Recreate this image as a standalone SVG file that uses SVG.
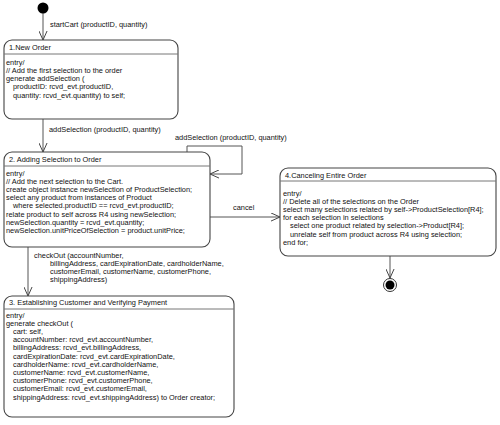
<svg xmlns="http://www.w3.org/2000/svg" width="500" height="425" viewBox="0 0 500 425">
<defs>
<marker id="open" viewBox="0 0 10 10" refX="10" refY="5" markerWidth="9" markerHeight="9" markerUnits="userSpaceOnUse" orient="auto">
<path d="M0,0.5 L10,5 L0,9.5" fill="none" stroke="#444" stroke-width="1.1"/>
</marker>
</defs>
<style>
text{font-family:"Liberation Sans",Arial,sans-serif;font-size:7.4px;fill:#111}
.box{fill:#fff;stroke:#444;stroke-width:1.1}
.div{stroke:#777;stroke-width:1}
.conn{fill:none;stroke:#555;stroke-width:1}
</style>
<rect width="500" height="425" fill="#fff"/>
<g id="connectors">
<line class="conn" x1="43" y1="12" x2="43" y2="40" marker-end="url(#open)"/>
<text x="50" y="27">startCart  (productID, quantity)</text>
<line class="conn" x1="43" y1="119" x2="43" y2="152" marker-end="url(#open)"/>
<text x="49" y="131.5">addSelection (productID, quantity)</text>
<polyline class="conn" points="187,152 187,146 242,146 242,174 210,174" marker-end="url(#open)"/>
<text x="175" y="139.5">addSelection (productID, quantity)</text>
<line class="conn" x1="210" y1="217" x2="280" y2="217" marker-end="url(#open)"/>
<text x="233" y="210">cancel</text>
<line class="conn" x1="28" y1="247" x2="28" y2="296" marker-end="url(#open)"/>
<text x="34" y="257.5">checkOut  (accountNumber,</text>
<text x="50" y="265.7">billingAddress, cardExpirationDate, cardholderName,</text>
<text x="50" y="273.9">customerEmail, customerName, customerPhone,</text>
<text x="50" y="282.1">shippingAddress)</text>
<line class="conn" x1="390" y1="256" x2="390" y2="278" marker-end="url(#open)"/>
</g>
<g id="initial">
<circle cx="43" cy="8" r="5.5" fill="#000"/>
</g>
<g id="final">
<circle cx="390" cy="285" r="6.5" fill="#fff" stroke="#333" stroke-width="1"/>
<circle cx="390" cy="285" r="4.5" fill="#000"/>
</g>
<g id="s1">
<rect class="box" x="4" y="40" width="174" height="79" rx="8"/>
<line class="div" x1="4" y1="54" x2="178" y2="54"/>
<text x="9" y="50">1.New Order</text>
<text x="6" y="64.5">entry/</text>
<text x="6" y="72.8">// Add the first selection to the order</text>
<text x="6" y="81.1">generate addSelection (</text>
<text x="13" y="89.4">productID: rcvd_evt.productID,</text>
<text x="13" y="97.7">quantity: rcvd_evt.quantity) to self;</text>
</g>
<g id="s2">
<rect class="box" x="4" y="152" width="206" height="95" rx="8"/>
<line class="div" x1="4" y1="166" x2="210" y2="166"/>
<text x="9" y="161.5">2. Adding Selection to Order</text>
<text x="6" y="175.5">entry/</text>
<text x="6" y="183.7">// Add the next selection to the Cart.</text>
<text x="6" y="191.9">create object instance newSelection of ProductSelection;</text>
<text x="6" y="200.1">select any product from instances of Product</text>
<text x="13" y="208.3">where selected.productID == rcvd_evt.productID;</text>
<text x="6" y="216.5">relate product to self across R4 using newSelection;</text>
<text x="6" y="224.7">newSelection.quantity = rcvd_evt.quantity;</text>
<text x="6" y="232.9">newSelection.unitPriceOfSelection = product.unitPrice;</text>
</g>
<g id="s3">
<rect class="box" x="4" y="296" width="230" height="121" rx="8"/>
<line class="div" x1="4" y1="309" x2="234" y2="309"/>
<text x="9" y="305">3. Establishing Customer and Verifying Payment</text>
<text x="6" y="317.5">entry/</text>
<text x="6" y="325.7">generate checkOut (</text>
<text x="13" y="333.9">cart: self,</text>
<text x="13" y="342.1">accountNumber: rcvd_evt.accountNumber,</text>
<text x="13" y="350.3">billingAddress: rcvd_evt.billingAddress,</text>
<text x="13" y="358.5">cardExpirationDate: rcvd_evt.cardExpirationDate,</text>
<text x="13" y="366.7">cardholderName: rcvd_evt.cardholderName,</text>
<text x="13" y="374.9">customerName: rcvd_evt.customerName,</text>
<text x="13" y="383.1">customerPhone: rcvd_evt.customerPhone,</text>
<text x="13" y="391.3">customerEmail: rcvd_evt.customerEmail,</text>
<text x="13" y="399.5">shippingAddress: rcvd_evt.shippingAddress) to Order creator;</text>
</g>
<g id="s4">
<rect class="box" x="280" y="168" width="216" height="88" rx="8"/>
<line class="div" x1="280" y1="181" x2="496" y2="181"/>
<text x="285" y="177.5">4.Canceling Entire Order</text>
<text x="283" y="195.5">entry/</text>
<text x="283" y="203.7">// Delete all of the selections on the Order</text>
<text x="283" y="211.9">select many selections related by self-&gt;ProductSelection[R4];</text>
<text x="283" y="220.1">for each selection in selections</text>
<text x="290" y="228.3">select one product related by selection-&gt;Product[R4];</text>
<text x="290" y="236.5">unrelate self from product across R4 using selection;</text>
<text x="283" y="244.7">end for;</text>
</g>
</svg>
